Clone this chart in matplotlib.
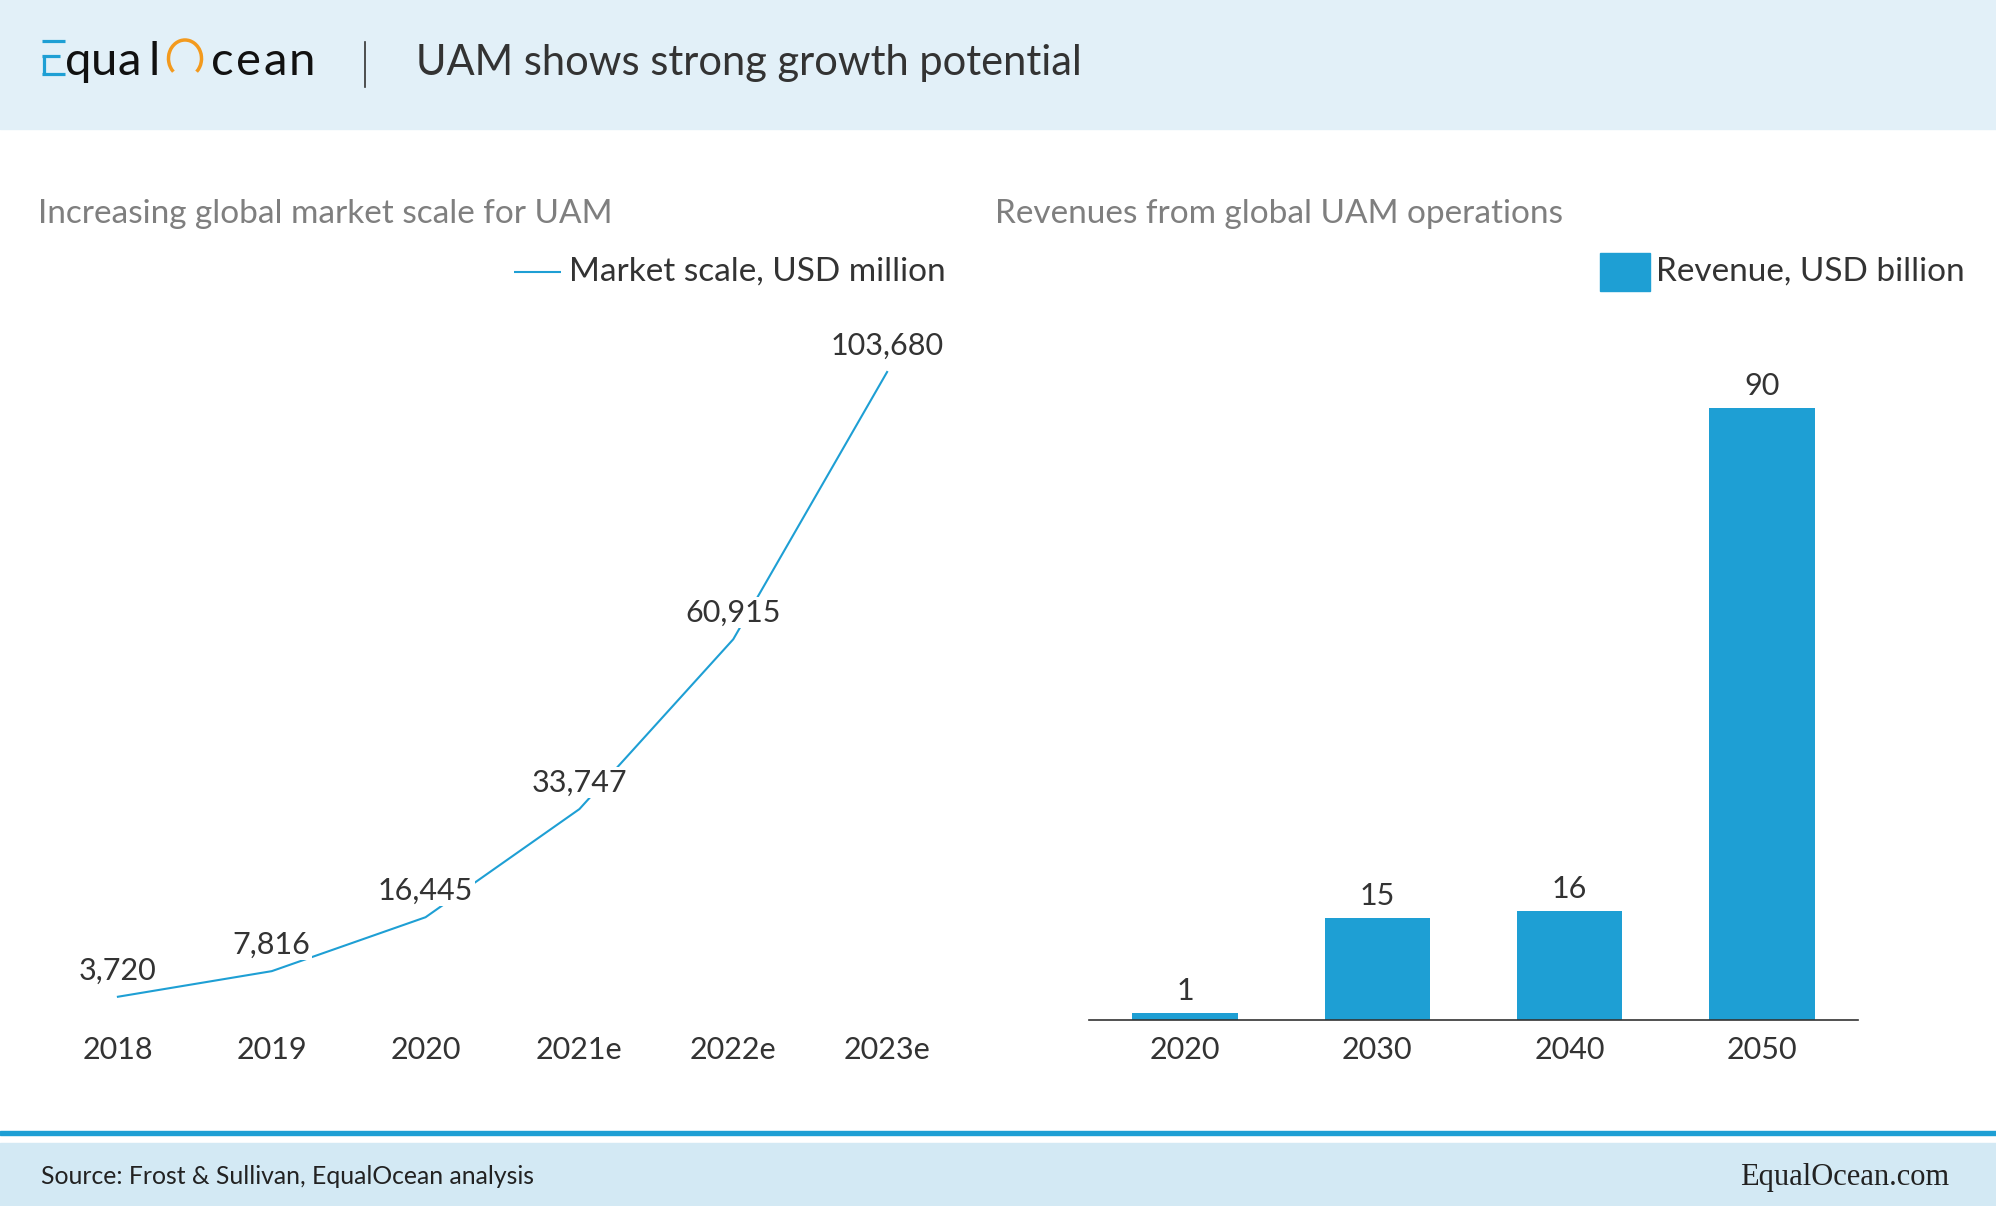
import matplotlib
matplotlib.use("Agg")
import matplotlib.pyplot as plt
from matplotlib.patches import Rectangle, Arc
from matplotlib.lines import Line2D

plt.rcParams["font.family"] = ["Lato", "DejaVu Sans"]

# data
years = ["2018", "2019", "2020", "2021e", "2022e", "2023e"]
market = [3720, 7816, 16445, 33747, 60915, 103680]
decades = ["2020", "2030", "2040", "2050"]
revenue = [1, 15, 16, 90]

BLUE = "#1E9FD4"
DARK = "#333333"
GRAY = "#7F7F7F"

W, H = 1996, 1206
fig = plt.figure(figsize=(W / 100, H / 100), dpi=100)


def fx(x):
    return x / W


def fy(y):
    return 1 - y / H


def box(x0, y0, x1, y1):
    return [fx(x0), fy(y1), (x1 - x0) / W, (y1 - y0) / H]


def hline(x0, x1, y, color, lw):
    fig.add_artist(Line2D([fx(x0), fx(x1)], [fy(y), fy(y)], transform=fig.transFigure,
                          color=color, lw=lw, solid_capstyle="butt"))


# header / footer bands
fig.add_artist(Rectangle((0, fy(129)), 1, 129 / H, transform=fig.transFigure,
                         color="#E2F0F8", zorder=0))
fig.add_artist(Rectangle((0, 0), 1, (H - 1143) / H, transform=fig.transFigure,
                         color="#D3E9F4", zorder=0))
fig.add_artist(Rectangle((0, fy(1135)), 1, 4 / H, transform=fig.transFigure,
                         color=BLUE, zorder=1))

# logo
hline(42, 65, 40.5, BLUE, 2.3)
hline(42, 60, 55.5, BLUE, 2.3)
hline(42, 65, 73.5, BLUE, 2.3)
fig.add_artist(Line2D([fx(43.5), fx(43.5)], [fy(54.5), fy(74.5)], transform=fig.transFigure,
                      color=BLUE, lw=2.3, solid_capstyle="butt"))
for ch, cx in zip("qual", [78, 104, 129, 154.5]):
    fig.text(fx(cx), fy(75), ch, color="#111111", fontsize=34,
             va="baseline", ha="center")
fig.add_artist(Arc((fx(185), fy(58.5)), 33 / W, 37 / H, theta1=-62, theta2=242,
                   transform=fig.transFigure, color="#F39A1E", lw=2.5))
for ch, cx in zip("cean", [222, 248, 275, 302]):
    fig.text(fx(cx), fy(75), ch, color="#111111", fontsize=34,
             va="baseline", ha="center")
fig.add_artist(Line2D([fx(365), fx(365)], [fy(42), fy(87)], transform=fig.transFigure,
                      color=DARK, lw=1.2))
fig.text(fx(416), fy(63), "UAM shows strong growth potential", color=DARK,
         fontsize=30, va="center", ha="left")

# subtitles
fig.text(fx(38), fy(214), "Increasing global market scale for UAM", color=GRAY,
         fontsize=24, va="center", ha="left")
fig.text(fx(995), fy(214), "Revenues from global UAM operations", color=GRAY,
         fontsize=24, va="center", ha="left")

# legends
hline(514, 561, 272, BLUE, 1.5)
fig.text(fx(569), fy(272), "Market scale, USD million", color=DARK, fontsize=24,
         va="center", ha="left")
fig.add_artist(Rectangle((fx(1600), fy(291)), 50 / W, 38 / H, transform=fig.transFigure,
                         color=BLUE))
fig.text(fx(1656), fy(272), "Revenue, USD billion", color=DARK, fontsize=24,
         va="center", ha="left")

# line chart
ax1 = fig.add_axes(box(41, 370, 964, 1020))
ax1.plot(range(len(years)), market, color=BLUE, lw=1.5, zorder=2)
for i, v in enumerate(market):
    ax1.annotate(f"{v:,}", (i, v), xytext=(0, 19), textcoords="offset points",
                 ha="center", va="center", fontsize=22, color=DARK, zorder=3,
                 bbox=dict(boxstyle="square,pad=0.05", fc="white", ec="none"))
ax1.set_xlim(-0.5, len(years) - 0.5)
ax1.set_ylim(0, 104000)
ax1.set_xticks(range(len(years)), years)
ax1.set_yticks([])
ax1.tick_params(axis="x", length=0, pad=11.5, labelsize=22, labelcolor=DARK)
for s in ax1.spines.values():
    s.set_visible(False)

# bar chart
ax2 = fig.add_axes(box(1089, 370, 1858, 1020))
bars = ax2.bar(range(len(decades)), revenue, width=0.55, color=BLUE)
for i, v in enumerate(revenue):
    ax2.annotate(f"{v}", (i, v), xytext=(0, 16), textcoords="offset points",
                 ha="center", va="center", fontsize=22, color=DARK)
ax2.set_xlim(-0.5, len(decades) - 0.5)
ax2.set_ylim(0, 95.6)
ax2.set_xticks(range(len(decades)), decades)
ax2.set_yticks([])
ax2.tick_params(axis="x", length=0, pad=11.5, labelsize=22, labelcolor=DARK)
for k, s in ax2.spines.items():
    s.set_visible(k == "bottom")
ax2.spines["bottom"].set_color(DARK)
ax2.spines["bottom"].set_linewidth(1.2)

# footer
fig.text(fx(41), fy(1177), "Source: Frost & Sullivan, EqualOcean analysis",
         fontsize=17.8, color="#222222", va="center", ha="left")
fig.text(fx(1949), fy(1177), "EqualOcean.com", family=["Liberation Serif"],
         fontsize=22, color="#222222", va="center", ha="right")

fig.savefig("out.png", dpi=100)
